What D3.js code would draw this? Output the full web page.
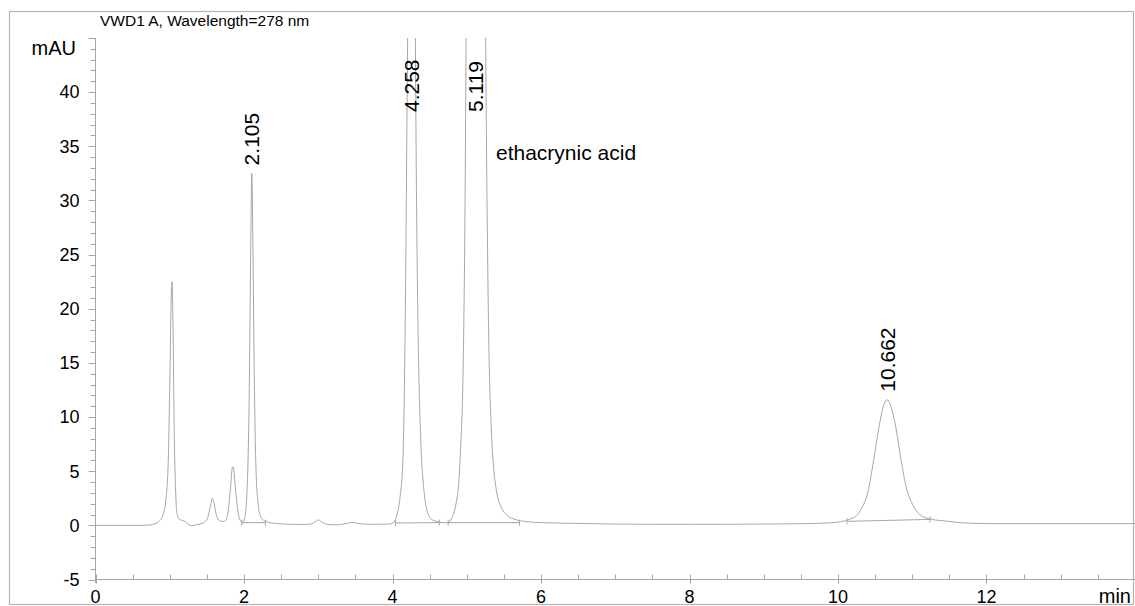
<!DOCTYPE html>
<html>
<head>
<meta charset="utf-8">
<script src="https://cdn.jsdelivr.net/npm/d3@7"></script>
<style>
  body { margin: 0; background: #fff; }
  text { font-family: 'Liberation Sans', Arial, sans-serif; fill: #000; }
</style>
</head>
<body>
<svg id="chart" width="1135" height="606"></svg>
<script>
// chromatogram data (time in min, signal in mAU)
const times = [0, 0.6, 0.72, 0.8, 0.86, 0.91, 0.95, 0.98, 1.0, 1.02, 1.03, 1.045, 1.06, 1.08, 1.1, 1.13,
  1.17, 1.21, 1.26, 1.3, 1.35, 1.42, 1.48, 1.52, 1.55, 1.575, 1.6, 1.63, 1.67, 1.72, 1.76, 1.79, 1.82,
  1.845, 1.86, 1.89, 1.92, 1.95, 1.98, 2.01, 2.04, 2.07, 2.09, 2.105, 2.12, 2.14, 2.16, 2.19, 2.22, 2.26,
  2.32, 2.4, 2.55, 2.75, 2.9, 2.96, 3.0, 3.05, 3.12, 3.25, 3.4, 3.47, 3.55, 3.75, 3.95, 4.02, 4.06, 4.1,
  4.14, 4.17, 4.2, 4.22, 4.258, 4.3, 4.32, 4.34, 4.38, 4.42, 4.46, 4.52, 4.6, 4.68, 4.74, 4.8, 4.85, 4.89,
  4.92, 4.95, 4.975, 5.0, 5.119, 5.24, 5.26, 5.29, 5.33, 5.4, 5.47, 5.55, 5.65, 5.8, 6.0, 6.5, 7.0, 7.5,
  8.0, 8.5, 9.0, 9.5, 9.8, 10.0, 10.15, 10.25, 10.32, 10.4, 10.48, 10.55, 10.62, 10.662, 10.7, 10.78,
  10.85, 10.92, 11.0, 11.1, 11.2, 11.3, 11.45, 11.64, 12.05, 14.0]
const signal = [0, 0, 0.03, 0.15, 0.4, 1.0, 2.5, 6.0, 13.0, 21.0, 22.5, 18.0, 9.0, 3.0, 1.0, 0.55,
  0.45, 0.35, 0.05, -0.02, 0.05, 0.15, 0.35, 0.9, 1.9, 2.5, 1.9, 0.9, 0.45, 0.35, 0.5, 1.5, 3.6,
  5.4, 5.2, 3.0, 1.2, 0.45, 0.25, 0.7, 3.0, 12.0, 25.0, 32.5, 26.0, 13.0, 5.5, 2.0, 0.9, 0.5,
  0.3, 0.2, 0.12, 0.08, 0.12, 0.35, 0.5, 0.3, 0.1, 0.05, 0.2, 0.28, 0.15, 0.1, 0.12, 0.3, 1.0, 2.5,
  6.0, 18.0, 42.0, 60.0, 120.0, 55.0, 33.0, 20.0, 8.0, 3.5, 1.5, 0.6, 0.35, 0.25, 0.25, 0.7, 1.8, 3.8,
  7.5, 14.0, 28.0, 55.0, 150.0, 60.0, 40.0, 20.0, 9.0, 3.2, 1.6, 0.9, 0.55, 0.35, 0.25, 0.18, 0.12, 0.1,
  0.1, 0.1, 0.12, 0.15, 0.2, 0.3, 0.55, 0.9, 1.6, 3.0, 6.0, 9.0, 11.2, 11.6, 11.2, 9.0,
  6.0, 3.5, 2.0, 1.0, 0.65, 0.5, 0.4, 0.25, 0.16, 0.16]

// labelled peaks
const peakTimes = [2.105, 4.258, 5.119, 10.662]
const peakHeights = [32.5, 120, 150, 11.6]
const peakLabels = ['2.105', '4.258', '5.119', '10.662']

// integration baselines: start/end time and level
const baseStart = [1.97, 4.04, 4.75, 10.12]
const baseEnd = [2.29, 4.63, 5.71, 11.24]
const baseStartLevel = [0.25, 0.22, 0.25, 0.37]
const baseEndLevel = [0.25, 0.25, 0.25, 0.55]

// axis ticks
const xTicks = [0, 2, 4, 6, 8, 10, 12]
const yTicks = [-5, 0, 5, 10, 15, 20, 25, 30, 35, 40]

const svg = d3.select('#chart')
const grey = '#a6a6a6'

const x = d3.scaleLinear().domain([0, 14]).range([95.5, 1135])
const y = d3.scaleLinear().domain([-5, 45]).range([579.5, 38])

// outer frame
svg.append('rect')
  .attr('x', 9.5).attr('y', 11.5)
  .attr('width', 1124).attr('height', 593)
  .attr('fill', 'none')
  .attr('stroke', '#b4b4b4')
  .attr('stroke-width', 1.2)

svg.append('text') // signal title
  .attr('x', 100).attr('y', 26)
  .style('font-size', '15.5px')
  .text('VWD1 A, Wavelength=278 nm')

// clip so the big peaks stop at the top of the plot
svg.append('defs').append('clipPath').attr('id', 'plotClip')
  .append('rect')
  .attr('x', 95.5).attr('y', 38)
  .attr('width', 1040).attr('height', 541.5)

// y axis
const yAxis = svg.append('g').attr('transform', 'translate(95.5,0)')
yAxis.append('line')
  .attr('y1', 38).attr('y2', 583)
  .attr('stroke', grey)
yAxis.selectAll('.ytick')
  .data(d3.range(-5, 46, 1))
  .enter()
  .append('line')
  .attr('x1', d => d % 5 === 0 ? -7 : -5)
  .attr('x2', 0)
  .attr('y1', d => Math.round(y(d)) + 0.5)
  .attr('y2', d => Math.round(y(d)) + 0.5)
  .attr('stroke', grey)
yAxis.selectAll('.ylab')
  .data(yTicks)
  .enter()
  .append('text')
  .attr('x', -16)
  .attr('y', d => y(d))
  .attr('dy', '0.35em')
  .attr('text-anchor', 'end')
  .style('font-size', '18px')
  .text(d => d)

svg.append('text') // y unit
  .attr('x', 76).attr('y', 55)
  .attr('text-anchor', 'end')
  .style('font-size', '20px')
  .text('mAU')

// x axis
const xAxis = svg.append('g').attr('transform', 'translate(0,579.5)')
xAxis.append('line')
  .attr('x1', 95.5).attr('x2', 1135)
  .attr('stroke', grey)
xAxis.selectAll('.xtick')
  .data(d3.range(0, 14, 0.5))
  .enter()
  .append('line')
  .attr('x1', d => Math.round(x(d)) + 0.5)
  .attr('x2', d => Math.round(x(d)) + 0.5)
  .attr('y1', -5)
  .attr('y2', d => d % 2 === 0 ? 4 : 0)
  .attr('stroke', grey)
xAxis.selectAll('.xlab')
  .data(xTicks)
  .enter()
  .append('text')
  .attr('x', d => x(d))
  .attr('y', 23.5)
  .attr('text-anchor', 'middle')
  .style('font-size', '18px')
  .text(d => d)

svg.append('text') // x unit
  .attr('x', 1131).attr('y', 603)
  .attr('text-anchor', 'end')
  .style('font-size', '20px')
  .text('min')

const plot = svg.append('g').attr('clip-path', 'url(#plotClip)')

// integration baselines with their end marks
baseStart.forEach((t0, i) => {
  const t1 = baseEnd[i]
  plot.append('line')
    .attr('x1', x(t0)).attr('x2', x(t1))
    .attr('y1', y(baseStartLevel[i])).attr('y2', y(baseEndLevel[i]))
    .attr('stroke', grey)
  plot.append('line')
    .attr('x1', x(t0)).attr('x2', x(t0))
    .attr('y1', y(baseStartLevel[i]) - 3).attr('y2', y(baseStartLevel[i]) + 3)
    .attr('stroke', grey)
  plot.append('line')
    .attr('x1', x(t1)).attr('x2', x(t1))
    .attr('y1', y(baseEndLevel[i]) - 3).attr('y2', y(baseEndLevel[i]) + 3)
    .attr('stroke', grey)
})

// the trace itself
const line = d3.line()
  .x((d, i) => x(times[i]))
  .y(d => y(d))
  .curve(d3.curveMonotoneX)

plot.append('path')
  .attr('d', line(signal))
  .attr('fill', 'none')
  .attr('stroke', grey)
  .attr('stroke-width', 1)

// retention time labels, rotated above each peak
svg.selectAll('.peaklab')
  .data(peakLabels)
  .enter()
  .append('text')
  .attr('transform', (d, i) => {
    const top = peakHeights[i] > 45 ? 112 : y(peakHeights[i]) - 8
    return 'translate(' + x(peakTimes[i]) + ',' + top + ') rotate(-90)'
  })
  .attr('dy', '0.35em')
  .style('font-size', '21px')
  .text(d => d)

svg.append('text') // compound name
  .attr('x', 496).attr('y', 160)
  .style('font-size', '21px')
  .text('ethacrynic acid')
</script>
</body>
</html>
